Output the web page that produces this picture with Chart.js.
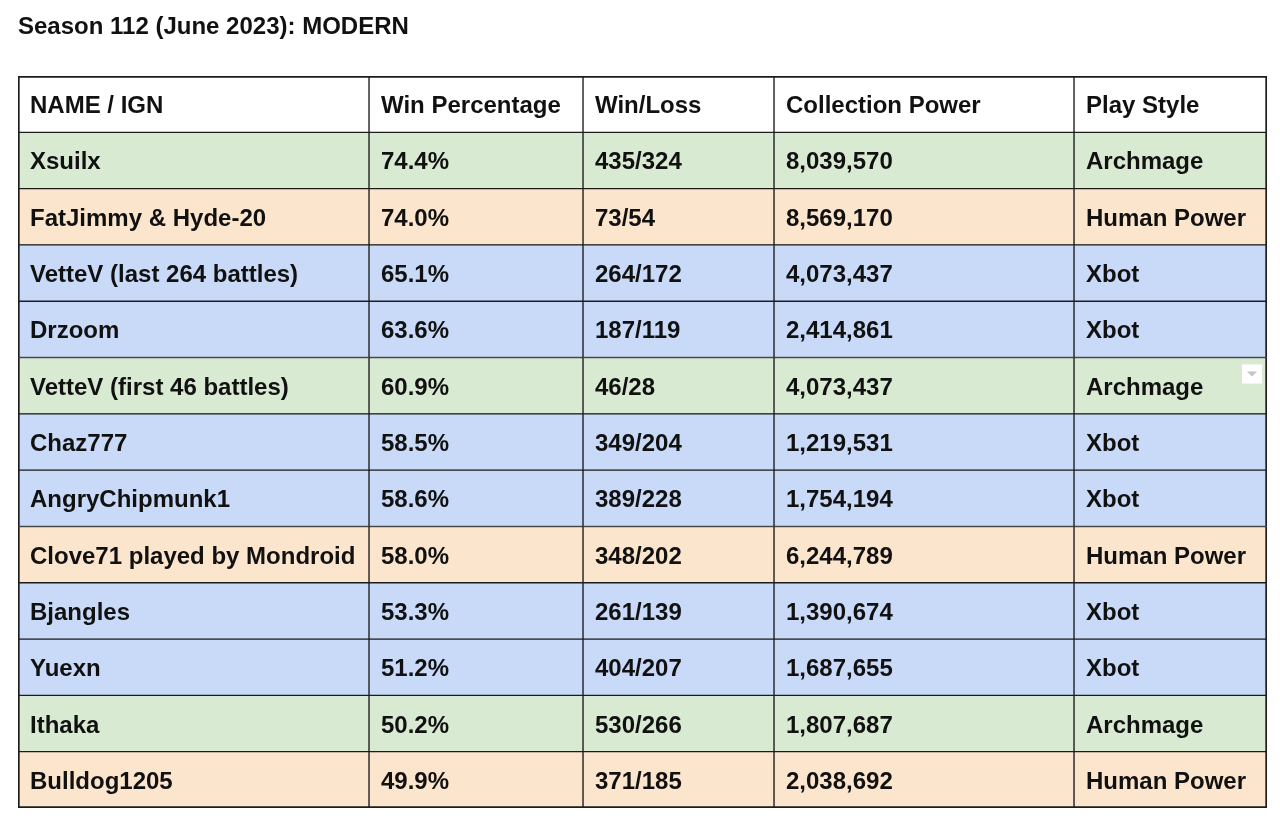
<!DOCTYPE html>
<html lang="en">
<head>
    <meta charset="UTF-8">
    <title>Season 112 (June 2023): MODERN</title>
    <script src="https://cdn.jsdelivr.net/npm/chart.js"></script>
    <style>
        body { margin: 0; background: #fff; }
        #wrap { width: 1280px; height: 824px; position: relative; }
    </style>
</head>
<body>

<div id="wrap">
    <canvas id="seasonTable"></canvas>
</div>

<script>
    // Table data
    const headers = ['NAME / IGN', 'Win Percentage', 'Win/Loss', 'Collection Power', 'Play Style'];
    const names = ['Xsuilx', 'FatJimmy & Hyde-20', 'VetteV (last 264 battles)', 'Drzoom',
        'VetteV (first 46 battles)', 'Chaz777', 'AngryChipmunk1', 'Clove71 played by Mondroid',
        'Bjangles', 'Yuexn', 'Ithaka', 'Bulldog1205'];
    const winPct = [74.4, 74.0, 65.1, 63.6, 60.9, 58.5, 58.6, 58.0, 53.3, 51.2, 50.2, 49.9];
    const wins = [435, 73, 264, 187, 46, 349, 389, 348, 261, 404, 530, 371];
    const losses = [324, 54, 172, 119, 28, 204, 228, 202, 139, 207, 266, 185];
    const power = [8039570, 8569170, 4073437, 2414861, 4073437, 1219531, 1754194, 6244789,
        1390674, 1687655, 1807687, 2038692];
    const styles = ['Archmage', 'Human Power', 'Xbot', 'Xbot', 'Archmage', 'Xbot', 'Xbot',
        'Human Power', 'Xbot', 'Xbot', 'Archmage', 'Human Power'];

    // Layout / look
    const colWidths = [351, 214, 191, 300, 193];
    const styleColors = { 'Archmage': '#d9ead3', 'Human Power': '#fce5cd', 'Xbot': '#c9daf8' };
    const lineColor = '#1c1c1c';
    const font = 'bold 24px "Liberation Sans", Arial, sans-serif';

    const colStarts = [];
    let acc = 0;
    colWidths.forEach(w => { colStarts.push(acc); acc += w; });
    const totalWidth = acc;

    const rowLabels = ['header'].concat(names);
    const nRows = rowLabels.length;

    function cellText(row, col) {
        if (row === 0) return headers[col];
        const i = row - 1;
        switch (col) {
            case 0: return names[i];
            case 1: return winPct[i].toFixed(1) + '%';
            case 2: return wins[i] + '/' + losses[i];
            case 3: return power[i].toLocaleString('en-US');
            default: return styles[i];
        }
    }

    function rowColor(row) {
        return row === 0 ? '#ffffff' : styleColors[styles[row - 1]];
    }

    // one floating-bar dataset per column, all sharing the row band
    const datasets = colWidths.map((w, col) => ({
        label: headers[col],
        data: rowLabels.map(() => [colStarts[col], colStarts[col] + w]),
        backgroundColor: ctx => rowColor(ctx.dataIndex),
        borderColor: lineColor,
        borderSkipped: false,
        borderWidth: ctx => ({
            top: ctx.dataIndex === 0 ? 2 : 1,
            bottom: ctx.dataIndex === nRows - 1 ? 2 : 1,
            left: col === 0 ? 2 : 1,
            right: col === colWidths.length - 1 ? 2 : 1
        }),
        grouped: false,
        barPercentage: 1,
        categoryPercentage: 1
    }));

    // writes the cell texts on top of the bars
    const cellTextPlugin = {
        id: 'cellText',
        afterDatasetsDraw(chart) {
            const ctx = chart.ctx;
            const x = chart.scales.x;
            const y = chart.scales.y;
            ctx.save();
            ctx.font = font;
            ctx.fillStyle = '#111';
            ctx.textAlign = 'left';
            ctx.textBaseline = 'alphabetic';
            for (let r = 0; r < nRows; r++) {
                const cy = y.getPixelForValue(r);
                for (let c = 0; c < colWidths.length; c++) {
                    const px = x.getPixelForValue(colStarts[c]) + 12;
                    ctx.fillText(cellText(r, c), px, cy + 9);
                }
            }

            // little filter dropdown marker in the "VetteV (first 46 battles)" play style cell
            const r = 5;
            const rx = x.getPixelForValue(totalWidth) - 25;
            const half = (y.getPixelForValue(1) - y.getPixelForValue(0)) / 2;
            const ry = y.getPixelForValue(r) - half + 7;
            ctx.fillStyle = '#ffffff';
            ctx.fillRect(rx, ry, 20, 19);
            ctx.fillStyle = '#c4c4c4';
            ctx.beginPath();
            ctx.moveTo(rx + 5, ry + 7);
            ctx.lineTo(rx + 15, ry + 7);
            ctx.lineTo(rx + 10, ry + 12);
            ctx.closePath();
            ctx.fill();
            ctx.restore();
        }
    };

    const chart = new Chart(document.getElementById('seasonTable'), {
        type: 'bar',
        data: { labels: rowLabels, datasets: datasets },
        options: {
            indexAxis: 'y',
            responsive: true,
            maintainAspectRatio: false,
            animation: false,
            layout: { padding: { left: 18, right: 13, top: 0, bottom: 16 } },
            scales: {
                x: { type: 'linear', min: 0, max: totalWidth, display: false },
                y: { display: false, grid: { display: false } }
            },
            plugins: {
                legend: { display: false },
                tooltip: { enabled: false },
                title: {
                    display: true,
                    text: 'Season 112 (June 2023): MODERN',
                    align: 'start',
                    color: '#111',
                    font: { family: '"Liberation Sans", Arial, sans-serif', size: 24, weight: 'bold', lineHeight: 1.2 },
                    padding: { top: 12.6, bottom: 34.6 }
                }
            }
        },
        plugins: [cellTextPlugin]
    });
</script>

</body>
</html>
